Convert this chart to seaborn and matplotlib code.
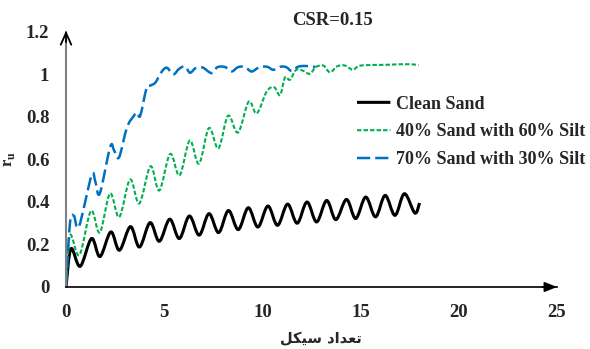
import matplotlib
matplotlib.use("Agg")
import matplotlib.pyplot as plt
import seaborn as sns
import numpy as np
from matplotlib.path import Path
from matplotlib.patheffects import AbstractPathEffect

# Pore-pressure ratio r_u against number of loading cycles (peaks and troughs of each cycle)
clean_x = [0, 0.25, 0.72, 1.30, 1.73, 2.28, 2.72, 3.28, 3.74, 4.28, 4.75, 5.28, 5.77, 6.28,
           6.78, 7.28, 7.77, 8.27, 8.77, 9.28, 9.77, 10.28, 10.77, 11.28, 11.77, 12.27,
           12.76, 13.27, 13.74, 14.28, 14.75, 15.26, 15.76, 16.25, 16.75, 17.23, 17.76, 18.0]
clean_y = [0, 0.18, 0.097, 0.228, 0.143, 0.259, 0.173, 0.284, 0.188, 0.303, 0.215, 0.319,
           0.228, 0.334, 0.244, 0.345, 0.256, 0.36, 0.27, 0.373, 0.282, 0.381, 0.29, 0.39,
           0.3, 0.40, 0.306, 0.407, 0.317, 0.412, 0.322, 0.423, 0.33, 0.431, 0.337, 0.439,
           0.348, 0.395]

silt60_x = [0, 0.2, 0.68, 1.27, 1.72, 2.24, 2.71, 3.26, 3.73, 4.3, 4.75, 5.3, 5.78, 6.3,
            6.77, 7.28, 7.76, 8.25, 8.76, 9.3, 9.71, 10.22, 10.6, 10.9, 11.15, 11.4, 11.7,
            12.0, 12.42, 12.7, 13.1, 13.44, 13.8, 14.2, 14.6, 14.9, 15.4, 16.0, 16.5, 17.0,
            17.5, 17.95]
silt60_y = [0, 0.244, 0.15, 0.358, 0.256, 0.44, 0.329, 0.506, 0.393, 0.568, 0.454, 0.626,
            0.525, 0.689, 0.58, 0.748, 0.652, 0.806, 0.727, 0.872, 0.817, 0.92, 0.94, 0.903,
            0.986, 0.975, 1.02, 1.02, 1.003, 1.034, 1.042, 1.01, 1.038, 1.042, 1.022, 1.04,
            1.044, 1.045, 1.046, 1.048, 1.048, 1.045]

silt30_x = [0, 0.2, 0.4, 0.66, 1.3, 1.5, 1.72, 2.25, 2.45, 2.7, 3.1, 3.45, 3.62, 3.78, 4.1,
            4.3, 4.55, 4.85, 5.13, 5.46, 5.75, 6.06, 6.31, 6.6, 6.95, 7.42, 7.7, 8.1, 8.43,
            8.75, 9.1, 9.45, 9.85, 10.25, 10.55, 10.9, 11.2, 11.5, 11.8, 12.2, 12.7]
silt30_y = [0, 0.30, 0.335, 0.285, 0.525, 0.493, 0.44, 0.66, 0.642, 0.61, 0.75, 0.805,
            0.821, 0.806, 0.935, 0.948, 0.962, 1.01, 1.032, 1.0, 1.026, 1.038, 1.008, 1.03,
            1.033, 1.006, 1.034, 1.035, 1.014, 1.034, 1.036, 1.014, 1.035, 1.036, 1.022,
            1.036, 1.035, 1.016, 1.036, 1.04, 1.035]

labels = ["Clean Sand", "40% Sand with 60% Silt", "70% Sand with 30% Silt"]
colors = ["black", "#00B050", "#0070C0"]
x_ticks = [0, 5, 10, 15, 20, 25]
y_ticks = [0, 0.2, 0.4, 0.6, 0.8, 1.0, 1.2]
y_tick_labels = ["0", "0.2", "0.4", "0.6", "0.8", "1", "1.2"]
title = "CSR=0.15"
# Persian axis title, written in presentation forms in visual order (no text shaping in matplotlib)
x_title = "\uFEDE\uFB91\uFEF4\uFEB3 \uFEA9\uFE8D\uFEAA\uFECC\uFE97"


class SmoothLine(AbstractPathEffect):
    """Render a polyline as a smooth Catmull-Rom (cubic Bezier) curve through its vertices."""

    def draw_path(self, renderer, gc, tpath, affine, rgbFace=None):
        v = np.asarray(tpath.vertices, dtype=float)
        if len(v) > 2:
            p = np.vstack([v[0], v, v[-1]])
            verts = [v[0]]
            codes = [Path.MOVETO]
            for i in range(1, len(p) - 2):
                p0, p1, p2, p3 = p[i - 1], p[i], p[i + 1], p[i + 2]
                verts += [p1 + (p2 - p0) / 6.0, p2 - (p3 - p1) / 6.0, p2]
                codes += [Path.CURVE4] * 3
            tpath = Path(np.array(verts), codes)
        renderer.draw_path(gc, tpath, affine, rgbFace)


sns.set_style("white")
plt.rcParams["font.family"] = ["Liberation Serif", "DejaVu Serif"]
plt.rcParams["font.weight"] = "bold"
plt.rcParams["mathtext.fontset"] = "custom"
plt.rcParams["mathtext.bf"] = "Liberation Serif:bold"
plt.rcParams["mathtext.rm"] = "Liberation Serif"
plt.rcParams["lines.scale_dashes"] = False

fig = plt.figure(figsize=(5.9, 3.49), dpi=100)
ax = fig.add_axes([0.1119, 0.1777, 0.8322, 0.7307])

series = [(clean_x, clean_y), (silt60_x, silt60_y), (silt30_x, silt30_y)]
widths = [2.2, 1.5, 1.8]
dash_patterns = [None, (3.2, 1.5), (9.5, 3.6)]
for (xs, ys), lab, col, lw, dsh in zip(series, labels, colors, widths, dash_patterns):
    sns.lineplot(x=xs, y=ys, ax=ax, color=col, linewidth=lw, label=lab, sort=False)
    line = ax.lines[-1]
    if dsh is not None:
        line.set_dashes(dsh)
    line.set_path_effects([SmoothLine()])
    line.set_solid_capstyle("butt")

ax.set_xlim(0, 25)
ax.set_ylim(0, 1.2)
ax.set_xticks(x_ticks)
ax.set_yticks(y_ticks)
ax.set_yticklabels(y_tick_labels)
ax.tick_params(axis="both", length=0, labelsize=13.5)
ax.tick_params(axis="y", pad=12)
ax.tick_params(axis="x", pad=12)

for side in ("top", "right"):
    ax.spines[side].set_visible(False)
ax.spines["left"].set_color("#808080")
ax.spines["left"].set_linewidth(1.5)
ax.spines["bottom"].set_color("black")
ax.spines["bottom"].set_linewidth(1.2)

# Arrow heads at the ends of both axes
ax.annotate("", xy=(0, 1.005), xytext=(0, 0.96), xycoords="axes fraction",
            arrowprops=dict(arrowstyle="->,head_length=0.85,head_width=0.38",
                            color="black", lw=1.3, shrinkA=0, shrinkB=0),
            annotation_clip=False)
ax.annotate("", xy=(1.0, 0), xytext=(0.97, 0), xycoords="axes fraction",
            arrowprops=dict(arrowstyle="-|>,head_length=0.75,head_width=0.3",
                            color="black", lw=1.2, shrinkA=0, shrinkB=0),
            annotation_clip=False)

ax.set_ylabel(r"$\mathbf{r}_\mathbf{u}$", fontsize=12, rotation=90)
ax.yaxis.set_label_coords(-0.1, 0.5)
ax.set_xlabel(x_title, fontsize=10.5, family="DejaVu Sans", fontweight="bold")
ax.xaxis.set_label_coords(0.519, -0.175)

fig.text(0.563, 0.94, title, ha="center", va="center", fontsize=13.5, fontweight="bold")

ax.legend(loc="center left", bbox_to_anchor=(357 / 590, (349 - 132) / 349),
          bbox_transform=fig.transFigure, frameon=False, fontsize=13,
          handlelength=1.85, handletextpad=0.3, labelspacing=0.6,
          borderpad=0, borderaxespad=0)

fig.savefig("out.png", dpi=100)
